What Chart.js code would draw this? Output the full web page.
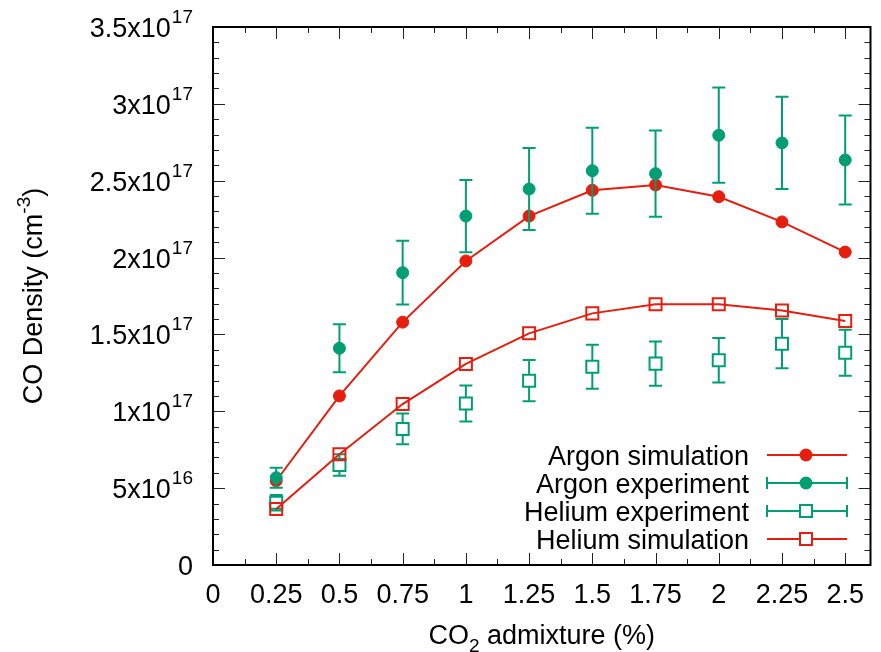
<!DOCTYPE html>
<html>
<head>
<meta charset="utf-8">
<title>CO density vs CO2 admixture</title>
<script src="https://cdn.jsdelivr.net/npm/chart.js@4.4.1/dist/chart.umd.min.js"></script>
<style>
  html, body { margin: 0; padding: 0; background: #fff; }
  #wrap { width: 881px; height: 652px; }
</style>
</head>
<body>
<div id="wrap"><canvas id="coChart" width="881" height="652"></canvas></div>
<script>
// CO2 admixture (%)
const co2 = [0.25, 0.5, 0.75, 1, 1.25, 1.5, 1.75, 2, 2.25, 2.5];

// CO density, in units of 1e17 cm^-3
const argonSim     = [0.548, 1.10, 1.58, 1.978, 2.27, 2.438, 2.472, 2.396, 2.232, 2.036];
const argonExp     = [0.568, 1.41, 1.902, 2.27, 2.446, 2.565, 2.546, 2.796, 2.746, 2.635];
const argonExpErr  = [0.065, 0.156, 0.208, 0.235, 0.267, 0.28, 0.28, 0.31, 0.30, 0.29];
const heliumExp    = [0.405, 0.65, 0.885, 1.05, 1.199, 1.29, 1.31, 1.332, 1.44, 1.381];
const heliumExpErr = [0.05, 0.07, 0.10, 0.117, 0.134, 0.143, 0.144, 0.145, 0.16, 0.15];
const heliumSim    = [0.364, 0.72, 1.047, 1.308, 1.507, 1.637, 1.696, 1.696, 1.655, 1.588];

// axis ticks
const xTicks = [0, 0.25, 0.5, 0.75, 1, 1.25, 1.5, 1.75, 2, 2.25, 2.5];
const xTickLabels = ['0', '0.25', '0.5', '0.75', '1', '1.25', '1.5', '1.75', '2', '2.25', '2.5'];
const yTicks = [0, 0.5, 1, 1.5, 2, 2.5, 3, 3.5];
const yTickBase = ['0', '5x10', '1x10', '1.5x10', '2x10', '2.5x10', '3x10', '3.5x10'];
const yTickExp  = ['', '16', '17', '17', '17', '17', '17', '17'];

const RED = '#e51e10';
const GREEN = '#009e73';
const FONT = '"Liberation Sans", Arial, Helvetica, sans-serif';

const toPoints = (ys) => ys.map((y, i) => ({ x: co2[i], y: y }));

// error bars, drawn per dataset so stacking order follows the datasets
const errorBars = {
  id: 'errorBars',
  afterDatasetDraw(chart, args) {
    const ds = chart.data.datasets[args.index];
    if (!ds.errors) return;
    const ctx = chart.ctx;
    const yScale = chart.scales.y;
    const gap = ds.pointStyle === 'rect' ? 6 : 0;
    ctx.save();
    ctx.strokeStyle = ds.borderColor;
    ctx.lineWidth = 2;
    args.meta.data.forEach((pt, i) => {
      const v = ds.data[i].y;
      const top = yScale.getPixelForValue(v + ds.errors[i]);
      const bot = yScale.getPixelForValue(v - ds.errors[i]);
      ctx.beginPath();
      if (gap && top < pt.y - gap) {
        ctx.moveTo(pt.x, top); ctx.lineTo(pt.x, pt.y - gap);
        ctx.moveTo(pt.x, pt.y + gap); ctx.lineTo(pt.x, bot);
      } else if (!gap) {
        ctx.moveTo(pt.x, top); ctx.lineTo(pt.x, bot);
      }
      ctx.moveTo(pt.x - 6.5, top); ctx.lineTo(pt.x + 6.5, top);
      ctx.moveTo(pt.x - 6.5, bot); ctx.lineTo(pt.x + 6.5, bot);
      ctx.stroke();
    });
    ctx.restore();
  }
};

function drawMarker(ctx, style, color, x, y) {
  ctx.save();
  if (style === 'circle') {
    ctx.fillStyle = color;
    ctx.beginPath();
    ctx.arc(x, y, 6.5, 0, Math.PI * 2);
    ctx.fill();
  } else {
    ctx.strokeStyle = color;
    ctx.lineWidth = 2;
    ctx.strokeRect(x - 6, y - 6, 12, 12);
  }
  ctx.restore();
}

// gnuplot style border, inward ticks, labels and key
const gnuFrame = {
  id: 'gnuFrame',
  afterDraw(chart) {
    const ctx = chart.ctx;
    const xs = chart.scales.x, ys = chart.scales.y;
    const a = chart.chartArea;
    ctx.save();

    // ticks on all four sides
    ctx.strokeStyle = '#222';
    ctx.lineWidth = 1;
    ctx.beginPath();
    for (let v = 0; v <= 2.6; v += 0.125) {
      const px = Math.round(xs.getPixelForValue(v)) + 0.5;
      const major = Math.abs(v / 0.25 - Math.round(v / 0.25)) < 1e-6;
      const len = major ? 12 : 6;
      ctx.moveTo(px, a.bottom); ctx.lineTo(px, a.bottom - len);
      ctx.moveTo(px, a.top); ctx.lineTo(px, a.top + len);
    }
    for (let v = 0; v <= 3.5001; v += 0.1) {
      const py = Math.round(ys.getPixelForValue(v)) + 0.5;
      const major = Math.abs(v / 0.5 - Math.round(v / 0.5)) < 1e-6;
      const len = major ? 12 : 6;
      ctx.moveTo(a.left, py); ctx.lineTo(a.left + len, py);
      ctx.moveTo(a.right, py); ctx.lineTo(a.right - len, py);
    }
    ctx.stroke();

    // border
    ctx.strokeStyle = '#000';
    ctx.lineWidth = 2;
    ctx.strokeRect(a.left, a.top, a.right - a.left, a.bottom - a.top);

    ctx.fillStyle = '#000';
    ctx.textBaseline = 'alphabetic';

    // x tick labels
    ctx.font = '27px ' + FONT;
    ctx.textAlign = 'center';
    xTicks.forEach((v, i) => {
      ctx.fillText(xTickLabels[i], xs.getPixelForValue(v), a.bottom + 38);
    });

    // y tick labels with superscript exponent
    const rightEdge = a.left - 20;
    ctx.textAlign = 'left';
    yTicks.forEach((v, i) => {
      const py = ys.getPixelForValue(v);
      ctx.font = '19px ' + FONT;
      const ew = yTickExp[i] ? ctx.measureText(yTickExp[i]).width : 0;
      ctx.font = '27px ' + FONT;
      const bw = ctx.measureText(yTickBase[i]).width;
      const x0 = rightEdge - ew - bw - (ew ? 1 : 0);
      ctx.fillText(yTickBase[i], x0, py + 10);
      if (yTickExp[i]) {
        ctx.font = '19px ' + FONT;
        ctx.fillText(yTickExp[i], x0 + bw + 1, py - 4);
      }
    });

    // x title: CO2 admixture (%)
    const t1 = 'CO', t2 = '2', t3 = ' admixture (%)';
    ctx.font = '27px ' + FONT;
    const w1 = ctx.measureText(t1).width, w3 = ctx.measureText(t3).width;
    ctx.font = '19px ' + FONT;
    const w2 = ctx.measureText(t2).width;
    let tx = (a.left + a.right) / 2 - (w1 + w2 + w3) / 2;
    ctx.font = '27px ' + FONT;
    ctx.fillText(t1, tx, 644);
    ctx.font = '19px ' + FONT;
    ctx.fillText(t2, tx + w1, 652);
    ctx.font = '27px ' + FONT;
    ctx.fillText(t3, tx + w1 + w2, 644);

    // y title: CO Density (cm-3)
    const s1 = 'CO Density (cm', s2 = '-3', s3 = ')';
    ctx.font = '27px ' + FONT;
    const u1 = ctx.measureText(s1).width, u3 = ctx.measureText(s3).width;
    ctx.font = '19px ' + FONT;
    const u2 = ctx.measureText(s2).width;
    ctx.translate(42, (a.top + a.bottom) / 2);
    ctx.rotate(-Math.PI / 2);
    let sx = -(u1 + u2 + u3) / 2;
    ctx.font = '27px ' + FONT;
    ctx.fillText(s1, sx, 0);
    ctx.font = '19px ' + FONT;
    ctx.fillText(s2, sx + u1, -12);
    ctx.font = '27px ' + FONT;
    ctx.fillText(s3, sx + u1 + u2, 0);
    ctx.setTransform(1, 0, 0, 1, 0, 0);

    // key, bottom right
    ctx.font = '27px ' + FONT;
    ctx.textAlign = 'right';
    chart.data.datasets.forEach((ds, i) => {
      const ky = 455 + i * 28;
      ctx.fillStyle = '#000';
      ctx.fillText(ds.label, 749, ky + 10);
      const mx = 806, x0 = 767, x1 = 847;
      const gap = ds.pointStyle === 'rect' ? 6 : 0;
      ctx.strokeStyle = ds.borderColor;
      ctx.lineWidth = 2;
      ctx.beginPath();
      ctx.moveTo(x0, ky); ctx.lineTo(mx - gap, ky);
      ctx.moveTo(mx + gap, ky); ctx.lineTo(x1, ky);
      if (ds.errors) {
        ctx.moveTo(x0, ky - 6); ctx.lineTo(x0, ky + 6);
        ctx.moveTo(x1, ky - 6); ctx.lineTo(x1, ky + 6);
      }
      ctx.stroke();
      drawMarker(ctx, ds.pointStyle, ds.borderColor, mx, ky);
    });

    ctx.restore();
  }
};

const ctx = document.getElementById('coChart').getContext('2d');

const coChart = new Chart(ctx, {
  type: 'line',
  data: {
    datasets: [
      {
        label: 'Argon simulation',
        data: toPoints(argonSim),
        borderColor: RED,
        backgroundColor: RED,
        borderWidth: 2,
        pointStyle: 'circle',
        pointRadius: 6,
        pointBorderWidth: 1,
        pointBackgroundColor: RED,
        tension: 0,
        order: 4
      },
      {
        label: 'Argon experiment',
        data: toPoints(argonExp),
        errors: argonExpErr,
        borderColor: GREEN,
        backgroundColor: GREEN,
        showLine: false,
        pointStyle: 'circle',
        pointRadius: 6,
        pointBorderWidth: 1,
        pointBackgroundColor: GREEN,
        order: 3
      },
      {
        label: 'Helium experiment',
        data: toPoints(heliumExp),
        errors: heliumExpErr,
        borderColor: GREEN,
        backgroundColor: 'rgba(0,0,0,0)',
        showLine: false,
        pointStyle: 'rect',
        pointRadius: 8.5,
        pointBorderWidth: 2,
        pointBackgroundColor: 'rgba(0,0,0,0)',
        order: 2
      },
      {
        label: 'Helium simulation',
        data: toPoints(heliumSim),
        borderColor: RED,
        backgroundColor: 'rgba(0,0,0,0)',
        borderWidth: 2,
        pointStyle: 'rect',
        pointRadius: 8.5,
        pointBorderWidth: 2,
        pointBackgroundColor: 'rgba(0,0,0,0)',
        tension: 0,
        order: 1
      }
    ]
  },
  options: {
    responsive: false,
    animation: false,
    events: [],
    layout: { padding: { left: 213, right: 3, top: 27, bottom: 87 } },
    plugins: {
      legend: { display: false },
      tooltip: { enabled: false }
    },
    scales: {
      x: {
        type: 'linear',
        min: 0,
        max: 2.6,
        grid: { display: false },
        border: { display: false },
        ticks: { display: false, stepSize: 0.25 },
        afterFit: (s) => { s.height = 0; }
      },
      y: {
        type: 'linear',
        min: 0,
        max: 3.5,
        grid: { display: false },
        border: { display: false },
        ticks: { display: false, stepSize: 0.5 },
        afterFit: (s) => { s.width = 0; }
      }
    }
  },
  plugins: [errorBars, gnuFrame]
});
</script>
</body>
</html>
